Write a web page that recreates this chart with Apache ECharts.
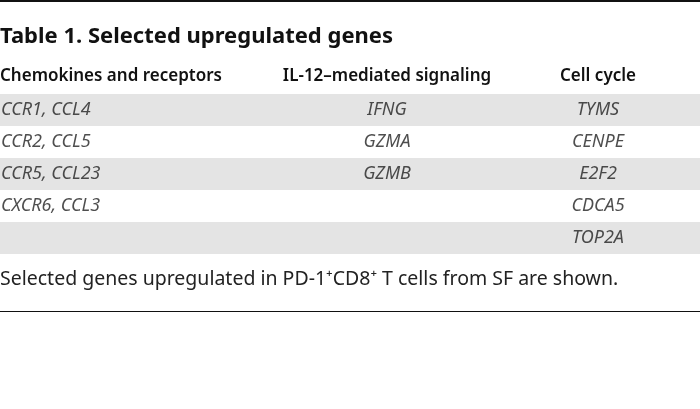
<!DOCTYPE html><html><head><meta charset="utf-8">
<script src="https://cdn.jsdelivr.net/npm/echarts@6/dist/echarts.min.js"></script>
<style>html,body{margin:0;padding:0;background:#fff}#c{width:700px;height:409px}</style></head><body><div id="c"></div>
<script>
const title = 'Table 1. Selected upregulated genes';
const headers = ['Chemokines and receptors', 'IL-12–mediated signaling', 'Cell cycle'];
const rows = ['r1','r2','r3','r4','r5'];
const col1 = ['CCR1, CCL4','CCR2, CCL5','CCR5, CCL23','CXCR6, CCL3',''];
const col2 = ['IFNG','GZMA','GZMB','',''];
const col3 = ['TYMS','CENPE','E2F2','CDCA5','TOP2A'];
const footnote = 'Selected genes upregulated in PD-1⁺CD8⁺ T cells from SF are shown.';
const colX = [0, 387, 598];
const F = '"Noto Sans", sans-serif';
const chart = echarts.init(document.getElementById('c'));
function ser(vals, x, align){
  return {type:'scatter', symbolSize:0, silent:true,
    data: vals.map((v,i)=>({value:[x,rows[i]], name:v})),
    label:{show:true, position:'inside', align:align, formatter:p=>p.name,
      fontFamily:F, fontStyle:'italic', fontSize:18, color:'#222'}};
}
chart.setOption({
  animation:false,
  grid:{left:0,right:0,top:94,height:160},
  xAxis:{type:'value',min:0,max:700,show:false},
  yAxis:{type:'category',data:rows,inverse:true,axisLine:{show:false},axisTick:{show:false},axisLabel:{show:false},
    splitArea:{show:true,areaStyle:{color:['#e4e4e4','#ffffff']}}},
  series:[ser(col1,colX[0]+1,'left'),ser(col2,colX[1],'center'),ser(col3,colX[2],'center')],
  graphic:[
    {type:'rect',shape:{x:0,y:0,width:700,height:2},style:{fill:'#111'}},
    {type:'text',x:0,y:37,style:{text:title,font:'bold 22px '+F,fill:'#111',textVerticalAlign:'middle'}},
    {type:'text',x:0,y:76,style:{text:headers[0],font:'600 17px '+F,fill:'#111',textVerticalAlign:'middle'}},
    {type:'text',x:387,y:76,style:{text:headers[1],font:'600 17px '+F,fill:'#111',textAlign:'center',textVerticalAlign:'middle'}},
    {type:'text',x:598,y:76,style:{text:headers[2],font:'600 17px '+F,fill:'#111',textAlign:'center',textVerticalAlign:'middle'}},
    {type:'text',x:0,y:279,style:{text:footnote,font:'19.5px '+F,fill:'#222',textVerticalAlign:'middle'}},
    {type:'rect',shape:{x:0,y:311,width:700,height:1},style:{fill:'#111'}}
  ]
});
</script></body></html>
